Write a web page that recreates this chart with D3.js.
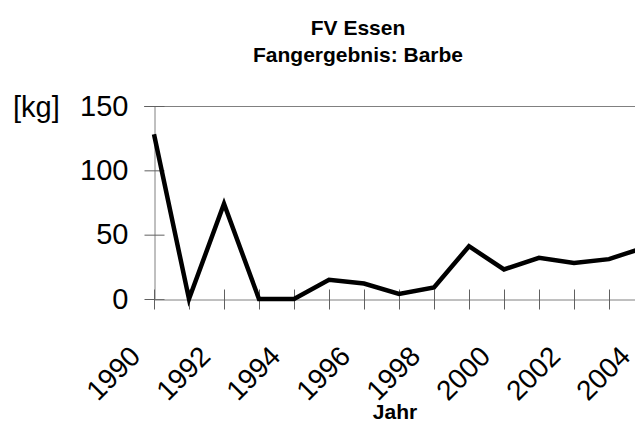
<!-- Load d3.js -->
<script src="https://d3js.org/d3.v7.min.js"></script>
<style>
  body { margin: 0; background: #fff; }
  text { font-family: "Liberation Sans", Arial, sans-serif; }
</style>
<div id="chart"></div>
<script>
    // data
    var years = [1990, 1991, 1992, 1993, 1994, 1995, 1996, 1997, 1998, 1999, 2000, 2001, 2002, 2003, 2004];
    var catch_kg = [128, 0, 74, 0, 0, 15, 12, 4, 9, 41, 23, 32, 28, 31, 40];
    var yearLabels = [1990, 1992, 1994, 1996, 1998, 2000, 2002, 2004];
    var yTicks = [0, 50, 100, 150];

    var W = 635, H = 446;
    var svg = d3.select("#chart").append("svg")
        .attr("width", W).attr("height", H);

    // scales (plot runs past the right edge, as in the original)
    var x = d3.scaleLinear().domain([1990, 2004]).range([154, 644]);
    var y = d3.scaleLinear().domain([0, 150]).range([299, 106]);

    // top border line of plot area
    svg.append("line")
        .attr("x1", 144).attr("x2", W)
        .attr("y1", y(150) + 0.5).attr("y2", y(150) + 0.5)
        .attr("stroke", "#808080");

    // Y axis
    var yAxis = svg.append("g")
        .attr("transform", "translate(" + (x(1990) + 0.5) + ",0)")
        .call(d3.axisLeft(y).tickValues(yTicks).tickSizeInner(10).tickSizeOuter(0).tickPadding(16));
    yAxis.select(".domain").attr("stroke", "#808080");
    yAxis.selectAll(".tick line").attr("x2", 10).attr("x1", -10).attr("stroke", "#606060");
    yAxis.selectAll(".tick text")
        .style("font-size", "29px")
        .attr("fill", "#000")
        .attr("x", -26);

    // X axis
    var xAxis = svg.append("g")
        .attr("transform", "translate(0," + (y(0) + 0.5) + ")")
        .call(d3.axisBottom(x).tickValues(years).tickSizeOuter(0).tickFormat(""));
    xAxis.select(".domain").attr("stroke", "#808080");
    xAxis.selectAll(".tick line").attr("y1", -10).attr("y2", 10).attr("stroke", "#606060");

    // rotated year labels
    svg.append("g").selectAll("text")
        .data(yearLabels)
        .enter().append("text")
        .attr("transform", function (d) { return "translate(" + (x(d) - 12) + ",358) rotate(-45)"; })
        .attr("text-anchor", "end")
        .style("font-size", "28px")
        .text(function (d) { return d; });

    // unit label
    svg.append("text")
        .attr("x", 13).attr("y", y(150) + 11)
        .style("font-size", "29px")
        .text("[kg]");

    // line
    var line = d3.line()
        .x(function (d, i) { return x(years[i]); })
        .y(function (d) { return y(d); });
    svg.append("path")
        .datum(catch_kg)
        .attr("d", line)
        .attr("fill", "none")
        .attr("stroke", "#000")
        .attr("stroke-width", 4.5)
        .attr("stroke-linejoin", "miter");

    // titles
    svg.append("text")
        .attr("x", 358).attr("y", 35)
        .attr("text-anchor", "middle")
        .style("font-size", "21px").style("font-weight", "bold")
        .text("FV Essen");
    svg.append("text")
        .attr("x", 358).attr("y", 62)
        .attr("text-anchor", "middle")
        .style("font-size", "21px").style("font-weight", "bold")
        .text("Fangergebnis: Barbe");
    svg.append("text")
        .attr("x", 395).attr("y", 419)
        .attr("text-anchor", "middle")
        .style("font-size", "21px").style("font-weight", "bold")
        .text("Jahr");
</script>
